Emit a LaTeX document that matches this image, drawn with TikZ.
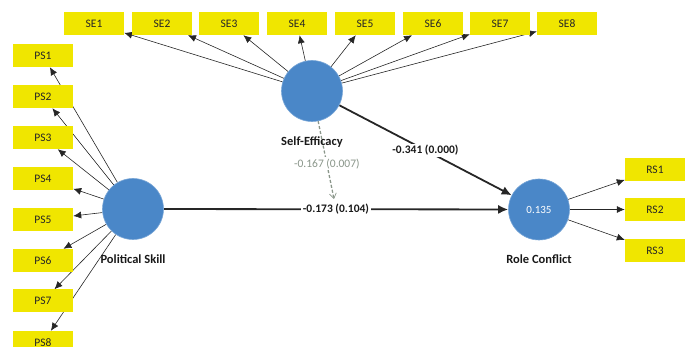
\documentclass[tikz,border=0pt]{standalone}
\usepackage{fontspec}
\setmainfont{Carlito}
\usetikzlibrary{arrows.meta,backgrounds}
\definecolor{boxyellow}{RGB}{240,230,0}
\definecolor{lvblue}{RGB}{74,135,200}
\definecolor{modgray}{RGB}{138,150,138}

\begin{document}
\begin{tikzpicture}[x=1pt,y=-1pt,
  indicator/.style={fill=boxyellow, minimum width=60pt, minimum height=23pt,
    inner sep=0pt, font=\fontsize{11.5}{12}\selectfont, text=black!85},
  latent/.style={circle, fill=lvblue, draw=lvblue!75!white, line width=0.6pt,
    minimum size=61pt, inner sep=0pt, text=white, font=\fontsize{11}{12}\selectfont},
  lvname/.style={font=\bfseries\fontsize{12.5}{14}\selectfont, text=black!90},
  loading/.style={draw=black!85, line width=0.6pt, -{Latex[length=8pt,width=7pt]}},
  structural/.style={draw=black!85, line width=1.8pt, -{Latex[length=10pt,width=9pt]}},
  coef/.style={fill=white, inner sep=1.5pt, font=\bfseries\fontsize{11.5}{13}\selectfont, text=black!90},
  moderation/.style={draw=modgray, line width=1.3pt, dash pattern=on 3pt off 2pt,
    -{Straight Barb[length=5pt,width=7pt,line width=0.7pt]}},
  modlabel/.style={fill=white, inner sep=1.5pt, font=\fontsize{11.5}{13}\selectfont, text=modgray},
]
\useasboundingbox (0,0) rectangle (694,347);
\clip (0,0) rectangle (694,347);

% latent variables
\node[latent] (SE) at (312,91) {};
\node[latent] (PS) at (133,209) {};
\node[latent] (RC) at (539,209.5) {0.135};

\node[lvname] (SEname) at (312,142) {Self-Efficacy};
\node[lvname] (PSname) at (133,259) {Political Skill};
\node[lvname] (RCname) at (539,259) {Role Conflict};

% Self-Efficacy indicators
\foreach \i/\x in {1/94,2/162,3/229,4/297,5/365,6/433,7/500,8/567}
  \node[indicator] (se\i) at (\x,23.5) {SE\i};

% Political Skill indicators
\foreach \i/\y in {1/55.5,2/96.5,3/137.5,4/178.5,5/219.5,6/260.5,7/301,8/342.5}
  \node[indicator] (ps\i) at (43,\y) {PS\i};

% Role Conflict indicators
\foreach \i/\y in {1/169.5,2/209.5,3/250.5}
  \node[indicator] (rs\i) at (655,\y) {RS\i};

\coordinate (modend) at (334,199);

\begin{scope}[on background layer]
  \foreach \i in {1,...,8} \draw[loading] (SE) -- (se\i);
  \foreach \i in {1,...,8} \draw[loading] (PS) -- (ps\i);
  \foreach \i in {1,2,3} \draw[loading] (RC) -- (rs\i);

  \draw[structural] (PS) -- node[coef] {-0.173 (0.104)} (RC);
  \draw[structural] (SE) -- node[coef, pos=0.5] {-0.341 (0.000)} (RC);
  \draw[moderation] (SE) -- node[modlabel, pos=0.55] {-0.167 (0.007)} (modend);
\end{scope}
\end{tikzpicture}
\end{document}
